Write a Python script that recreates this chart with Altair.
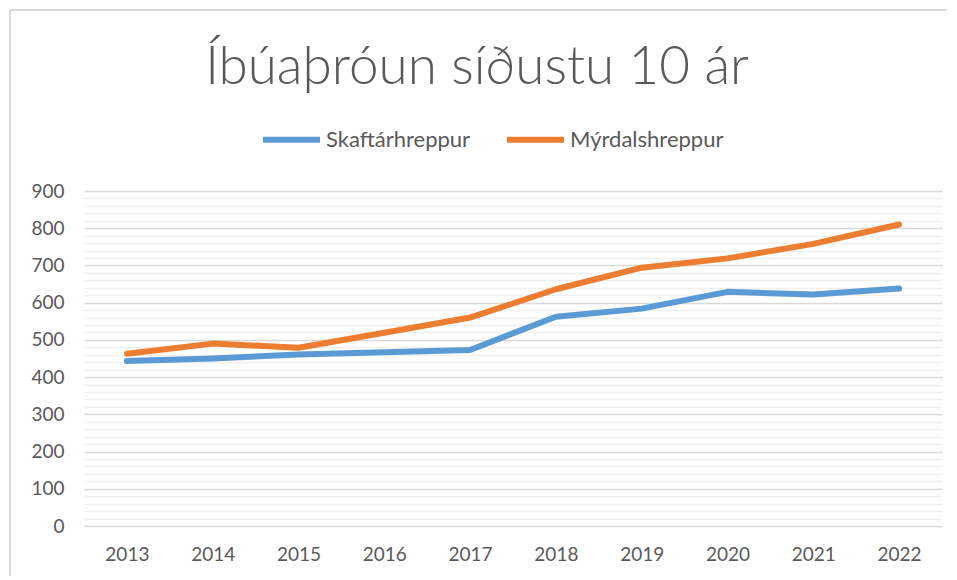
import altair as alt
import pandas as pd

years = ["2013", "2014", "2015", "2016", "2017", "2018", "2019", "2020", "2021", "2022"]
skaftarhreppur = [443, 450, 461, 467, 473, 562, 584, 629, 622, 638]
myrdalshreppur = [463, 490, 479, 519, 560, 636, 694, 719, 758, 810]
series_names = ["Skaftárhreppur", "Mýrdalshreppur"]
series_colors = ["#5B9BD5", "#ED7D31"]
title_text = "Íbúaþróun síðustu 10 ár"
y_ticks = list(range(0, 901, 20))

rows = []
for name, vals in zip(series_names, [skaftarhreppur, myrdalshreppur]):
    for yr, v in zip(years, vals):
        rows.append({"Ár": yr, "Íbúar": v, "Sveitarfélag": name})
df = pd.DataFrame(rows)

W, H = 858, 335
FONT = "Lato"
GREY = "#595959"

lines = alt.Chart(df).mark_line(
    strokeWidth=6, strokeCap="round", strokeJoin="round"
).encode(
    x=alt.X("Ár:O", sort=years, title=None,
            scale=alt.Scale(type="point", padding=0.5),
            axis=alt.Axis(labelAngle=0, labelFontSize=19, labelColor=GREY, labelFont=FONT,
                          ticks=False, domain=False, grid=False, labelPadding=19)),
    y=alt.Y("Íbúar:Q", title=None,
            scale=alt.Scale(domain=[0, 900], nice=False, zero=True),
            axis=alt.Axis(values=y_ticks, labelFontSize=19, labelColor=GREY, labelFont=FONT,
                          labelExpr="datum.value % 100 === 0 ? datum.label : ''",
                          ticks=False, domain=False, labelPadding=20,
                          gridWidth=1.6,
                          gridColor={"condition": {"test": "datum.value % 100 === 0", "value": "#d9d9d9"},
                                     "value": "#f0f0f0"})),
    color=alt.Color("Sveitarfélag:N", sort=series_names,
                    scale=alt.Scale(domain=series_names, range=series_colors),
                    legend=alt.Legend(title=None, orient="none", direction="horizontal",
                                      legendX=176, legendY=-83,
                                      symbolType="stroke", symbolSize=3249, symbolStrokeWidth=6,
                                      labelFontSize=22, labelColor=GREY, labelFont=FONT,
                                      labelOffset=3, columnPadding=24)),
    order=alt.Order("Ár:O"),
)

frame_data = pd.DataFrame({"k": [0]})
left_border = alt.Chart(frame_data).mark_rule(color="#d9d9d9", strokeWidth=2).encode(
    x=alt.value(-74), y=alt.value(-181), y2=alt.value(385))
top_border = alt.Chart(frame_data).mark_rule(color="#d9d9d9", strokeWidth=2).encode(
    x=alt.value(-74), x2=alt.value(863), y=alt.value(-181))

chart = alt.layer(left_border, top_border, lines).properties(
    width=W, height=H, padding=1,
    title=alt.Title(title_text, fontSize=53, font=FONT, fontWeight=300, color=GREY,
                    anchor="middle", dx=-36, offset=-86),
).configure_view(stroke=None)

chart.save("out.html", embed_options={"renderer": "svg", "actions": False})
